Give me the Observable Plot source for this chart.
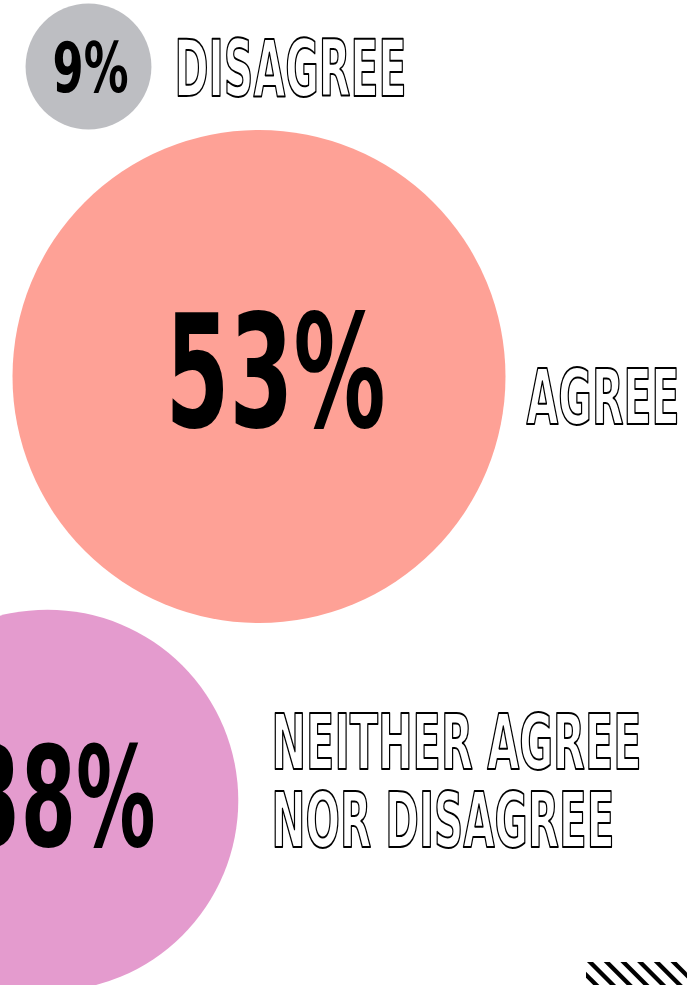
<!DOCTYPE html>
<html>
<head>
<meta charset="utf-8">
<script src="https://cdn.jsdelivr.net/npm/d3@7"></script>
<script src="https://cdn.jsdelivr.net/npm/@observablehq/plot@0.6"></script>
<style>
  html, body { margin: 0; padding: 0; background: #fff; overflow: hidden; }
  #chart svg { display: block; }
</style>
</head>
<body>
<div id="chart"></div>
<script>
// ---- data ----
const categories = ["Disagree", "Agree", "Neither agree nor disagree"];
const values = [9, 53, 38];
const valueLabels = ["9%", "53%", "38%"];
const labelLines = [["DISAGREE"], ["AGREE"], ["NEITHER AGREE", "NOR DISAGREE"]];
const colors = ["#bdbec2", "#fea196", "#e49bce"];

// ---- layout (positions / sizes, not data) ----
const W = 687, H = 985;
const circleX = [88, 258.5, 47];
const circleY = [66, 376, 800];
const numX = [52, 165, -35];
const numY = [91, 426, 845];
const numSize = [69, 157, 139];
const numWidth = [76, 220, 190];
const labelX = [[174], [526], [271, 271]];
const labelY = [[95], [423], [768, 846]];
const labelSize = [[79], [76], [76, 76]];
const labelWidth = [[232], [153], [370, 343]];

const circles = categories.map((c, i) => ({cat: c, value: values[i], x: circleX[i], y: circleY[i]}));
const nums = categories.map((c, i) => ({text: valueLabels[i], x: numX[i], y: numY[i], size: numSize[i], w: numWidth[i]}));
const labels = [];
categories.forEach((c, i) => labelLines[i].forEach((t, j) => labels.push({
  text: t, x: labelX[i][j], y: labelY[i][j], size: labelSize[i][j], w: labelWidth[i][j]
})));

const font = "'DejaVu Sans Condensed', 'DejaVu Sans', sans-serif";

const marks = [
  Plot.dot(circles, {x: "x", y: "y", r: "value", fill: "cat", stroke: null})
];
nums.forEach(d => marks.push(Plot.text([d], {
  x: "x", y: "y", text: "text", textAnchor: "start", lineAnchor: "bottom",
  fontSize: d.size, fontWeight: "bold", fontFamily: font, fill: "#000"
})));
labels.forEach(d => marks.push(Plot.text([d], {
  x: "x", y: "y", text: "text", textAnchor: "start", lineAnchor: "bottom",
  fontSize: d.size, fontWeight: "bold", fontFamily: font,
  fill: "#fff", stroke: "#000", strokeWidth: 2, paintOrder: "normal"
})));

const svg = Plot.plot({
  width: W, height: H, margin: 0,
  style: {background: "#fff", overflow: "hidden"},
  x: {type: "identity", axis: null},
  y: {type: "identity", axis: null},
  r: {type: "pow", exponent: 0.77, domain: [0, 53], range: [0, 246.5]},
  color: {domain: categories, range: colors},
  marks
});

// squeeze glyphs horizontally to the condensed widths
const widthByText = new Map([...nums, ...labels].map(d => [d.text, d.w]));
d3.select(svg).selectAll("text").each(function () {
  const t = this.textContent;
  if (widthByText.has(t)) {
    this.setAttribute("textLength", widthByText.get(t));
    this.setAttribute("lengthAdjust", "spacingAndGlyphs");
  }
});

// decorative diagonal stripes bottom-right
const s = d3.select(svg);
s.append("clipPath").attr("id", "stripeClip")
  .append("rect").attr("x", 586).attr("y", 962).attr("width", 101).attr("height", 23);
const g = s.append("g").attr("clip-path", "url(#stripeClip)");
d3.range(-2, 8).forEach(i => {
  const x0 = 588 + i * 16.7;
  g.append("line").attr("x1", x0).attr("y1", 960).attr("x2", x0 + 27).attr("y2", 987)
    .attr("stroke", "#000").attr("stroke-width", 4.3);
});

document.getElementById("chart").append(svg);
</script>
</body>
</html>
